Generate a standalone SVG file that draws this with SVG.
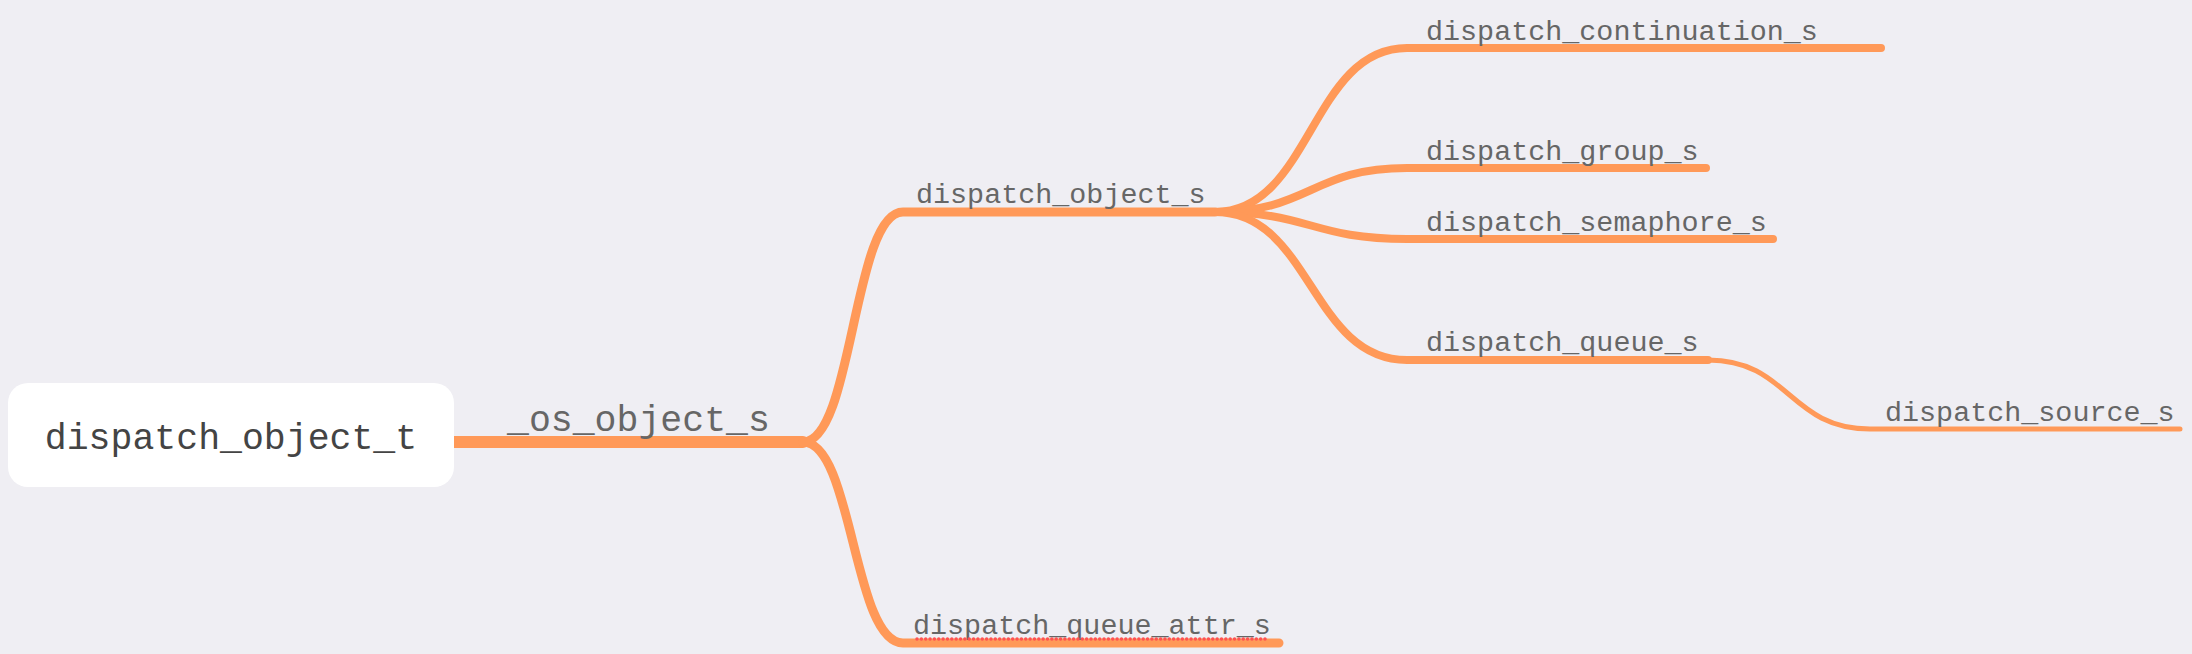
<svg xmlns="http://www.w3.org/2000/svg" width="2192" height="654" viewBox="0 0 2192 654">
  <style>
    .bg { fill: #efeef3; }
    .link { fill: none; stroke: #ff9958; stroke-linecap: round; stroke-linejoin: round; }
    .w1 { stroke-width: 12; }
    .w2 { stroke-width: 9; }
    .w3 { stroke-width: 8; }
    .w4 { stroke-width: 5; }
    .lbl { font-family: "Liberation Mono", "DejaVu Sans Mono", monospace; fill: #666666; }
    .big { font-size: 36.5px; }
    .small { font-size: 28.4px; }
    .rootbox { fill: #ffffff; }
    .roottext { fill: #444444; }
    .spell { fill: none; stroke: #ff5252; stroke-width: 3.5; stroke-linecap: round; stroke-dasharray: 0 4.35; }
  </style>
  <rect class="bg" x="0" y="0" width="2192" height="654"/>

  <g id="connectors">
    <path class="link w1" d="M452,442 H803"/>
    <path class="link w2" d="M803,442 C853,442 853,212 903,212 H1215"/>
    <path class="link w2" d="M803,442 C853,442 853,643 903,643 H1279"/>
    <path class="link w3" d="M1215,212 C1311,212 1311,48 1407,48 H1881"/>
    <path class="link w3" d="M1215,212 C1311,212 1311,168 1407,168 H1706"/>
    <path class="link w3" d="M1215,212 C1311,212 1311,239 1407,239 H1773"/>
    <path class="link w3" d="M1215,212 C1311,212 1311,360 1407,360 H1708"/>
    <path class="link w4" d="M1708,360 C1789,360 1789,429 1870,429 H2180"/>
  </g>

  <g id="node-dispatch_object_t">
    <rect class="rootbox" x="8" y="383" width="446" height="104" rx="20" ry="20"/>
    <text class="lbl big roottext" x="231" y="449" text-anchor="middle">dispatch_object_t</text>
  </g>

  <g id="node-os_object_s">
    <text class="lbl big" x="507" y="431">_os_object_s</text>
  </g>

  <g id="node-dispatch_object_s">
    <text class="lbl small" x="916" y="203">dispatch_object_s</text>
  </g>

  <g id="node-dispatch_continuation_s">
    <text class="lbl small" x="1426" y="40">dispatch_continuation_s</text>
  </g>

  <g id="node-dispatch_group_s">
    <text class="lbl small" x="1426" y="160">dispatch_group_s</text>
  </g>

  <g id="node-dispatch_semaphore_s">
    <text class="lbl small" x="1426" y="231">dispatch_semaphore_s</text>
  </g>

  <g id="node-dispatch_queue_s">
    <text class="lbl small" x="1426" y="351">dispatch_queue_s</text>
  </g>

  <g id="node-dispatch_source_s">
    <text class="lbl small" x="1885" y="421">dispatch_source_s</text>
  </g>

  <g id="node-dispatch_queue_attr_s">
    <text class="lbl small" x="913" y="634">dispatch_queue_attr_s</text>
    <line class="spell" x1="917" y1="639" x2="1267" y2="639"/>
  </g>
</svg>
